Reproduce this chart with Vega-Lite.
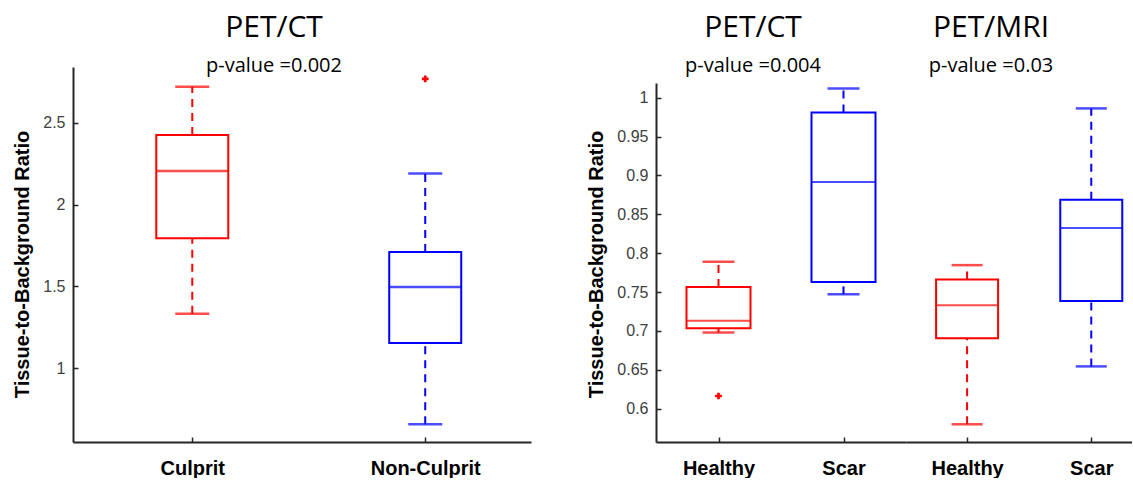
{
  "$schema": "https://vega.github.io/schema/vega-lite/v6.json",
  "padding": {"left": 12, "top": 13, "right": 0, "bottom": 0},
  "background": "white",
  "config": {
    "view": {"stroke": null},
    "axis": {
      "domainColor": "#262626", "domainWidth": 2,
      "tickColor": "#262626", "tickWidth": 1.5, "tickSize": -5,
      "labelFont": "Liberation Sans", "labelColor": "#404040", "labelFontSize": 16,
      "grid": false,
      "titleFont": "Liberation Sans", "titleFontWeight": "bold", "titleFontSize": 20, "titleColor": "#000000"
    },
    "axisX": {"labelFontWeight": "bold", "labelFontSize": 20, "labelColor": "#000000", "labelPadding": 21, "labelAngle": 0, "title": null},
    "axisY": {"labelPadding": 13, "format": "~g", "titlePadding": 10, "titleY": 197},
    "title": {
      "font": "Open Sans", "fontSize": 30, "fontWeight": "normal", "color": "#000000",
      "subtitleFont": "Open Sans", "subtitleFontSize": 20, "subtitleColor": "#000000", "subtitlePadding": 13,
      "frame": "group", "anchor": "middle", "dx": -28, "offset": -9
    }
  },
  "datasets": {
    "left": [
      {"cat": "Culprit", "lo": 1.333, "q1": 1.794, "med": 2.205, "q3": 2.425, "hi": 2.72},
      {"cat": "Non-Culprit", "lo": 0.658, "q1": 1.154, "med": 1.496, "q3": 1.71, "hi": 2.19}
    ],
    "leftOut": [{"cat": "Non-Culprit", "v": 2.767}],
    "petct": [
      {"cat": "Healthy", "lo": 0.698, "q1": 0.7035, "med": 0.713, "q3": 0.7564, "hi": 0.789},
      {"cat": "Scar", "lo": 0.747, "q1": 0.763, "med": 0.8915, "q3": 0.981, "hi": 1.012}
    ],
    "petctOut": [{"cat": "Healthy", "v": 0.6162}],
    "petmri": [
      {"cat": "Healthy", "lo": 0.5798, "q1": 0.6906, "med": 0.733, "q3": 0.766, "hi": 0.7846},
      {"cat": "Scar", "lo": 0.6543, "q1": 0.7384, "med": 0.8324, "q3": 0.8687, "hi": 0.9863}
    ]
  },
  "resolve": {"scale": {"x": "independent", "y": "independent"}},
  "spacing": 55,
  "hconcat": [
    {
      "width": 458, "height": 375,
      "title": {"text": "PET/CT", "subtitle": "p-value =0.002"},
      "data": {"name": "left"},
      "encoding": {
        "x": {"field": "cat", "type": "nominal",
              "scale": {"type": "point", "domain": ["Culprit", "Non-Culprit"], "padding": 0.483, "align": 0.53},
              "axis": {"title": null}}
      },
      "layer": [
        {"mark": {"type": "rule", "strokeWidth": 2, "strokeDash": [8, 6]},
         "encoding": {"y": {"field": "q3", "type": "quantitative", "scale": {"domain": [0.55, 2.84], "nice": false, "zero": false},
                            "axis": {"title": "Tissue-to-Background Ratio", "values": [1, 1.5, 2, 2.5]}},
                      "y2": {"field": "hi"},
                      "color": {"field": "cat", "type": "nominal", "legend": null,
                                "scale": {"domain": ["Culprit", "Non-Culprit", "Healthy", "Scar"], "range": ["#ff0000", "#0000ff", "#ff0000", "#0000ff"]}}}},
        {"mark": {"type": "rule", "strokeWidth": 2, "strokeDash": [8, 6]},
         "encoding": {"y": {"field": "lo", "type": "quantitative"}, "y2": {"field": "q1"},
                      "color": {"field": "cat", "type": "nominal", "legend": null}}},
        {"mark": {"type": "bar", "size": 72, "fill": "white", "fillOpacity": 0, "strokeWidth": 2},
         "encoding": {"y": {"field": "q1", "type": "quantitative"}, "y2": {"field": "q3"},
                      "stroke": {"field": "cat", "type": "nominal", "legend": null,
                                 "scale": {"domain": ["Culprit", "Non-Culprit", "Healthy", "Scar"], "range": ["#ff0000", "#0000ff", "#ff0000", "#0000ff"]}}}},
        {"mark": {"type": "tick", "size": 72, "thickness": 2.5},
         "encoding": {"y": {"field": "med", "type": "quantitative"}, "color": {"field": "cat", "type": "nominal", "legend": null}}},
        {"mark": {"type": "tick", "size": 34, "thickness": 2.5},
         "encoding": {"y": {"field": "hi", "type": "quantitative"}, "color": {"field": "cat", "type": "nominal", "legend": null}}},
        {"mark": {"type": "tick", "size": 34, "thickness": 2.5},
         "encoding": {"y": {"field": "lo", "type": "quantitative"}, "color": {"field": "cat", "type": "nominal", "legend": null}}},
        {"data": {"name": "leftOut"},
         "mark": {"type": "point", "shape": "cross", "filled": true, "color": "#ff0000", "size": 45, "opacity": 1},
         "encoding": {"y": {"field": "v", "type": "quantitative"}}}
      ]
    },
    {
      "spacing": 0,
      "resolve": {"scale": {"x": "independent", "y": "independent"}},
      "hconcat": [
        {
          "width": 250, "height": 375,
          "title": {"text": "PET/CT", "subtitle": "p-value =0.004"},
          "data": {"name": "petct"},
          "encoding": {
            "x": {"field": "cat", "type": "nominal",
                  "scale": {"type": "point", "domain": ["Healthy", "Scar"], "padding": 0.5, "align": 0.5},
                  "axis": {"title": null}}
          },
          "layer": [
            {"mark": {"type": "rule", "strokeWidth": 2, "strokeDash": [8, 6]},
             "encoding": {"y": {"field": "q3", "type": "quantitative", "scale": {"domain": [0.557, 1.019], "range": [375, 16], "nice": false, "zero": false},
                                "axis": {"title": "Tissue-to-Background Ratio", "titlePadding": 10, "values": [0.6, 0.65, 0.7, 0.75, 0.8, 0.85, 0.9, 0.95, 1]}},
                          "y2": {"field": "hi"},
                          "color": {"field": "cat", "type": "nominal", "legend": null,
                                    "scale": {"domain": ["Culprit", "Non-Culprit", "Healthy", "Scar"], "range": ["#ff0000", "#0000ff", "#ff0000", "#0000ff"]}}}},
            {"mark": {"type": "rule", "strokeWidth": 2, "strokeDash": [8, 6]},
             "encoding": {"y": {"field": "lo", "type": "quantitative"}, "y2": {"field": "q1"},
                          "color": {"field": "cat", "type": "nominal", "legend": null}}},
            {"mark": {"type": "bar", "size": 64, "fill": "white", "fillOpacity": 0, "strokeWidth": 2},
             "encoding": {"y": {"field": "q1", "type": "quantitative"}, "y2": {"field": "q3"},
                          "stroke": {"field": "cat", "type": "nominal", "legend": null,
                                     "scale": {"domain": ["Culprit", "Non-Culprit", "Healthy", "Scar"], "range": ["#ff0000", "#0000ff", "#ff0000", "#0000ff"]}}}},
            {"mark": {"type": "tick", "size": 64, "thickness": 2},
             "encoding": {"y": {"field": "med", "type": "quantitative"}, "color": {"field": "cat", "type": "nominal", "legend": null}}},
            {"mark": {"type": "tick", "size": 32, "thickness": 2.5},
             "encoding": {"y": {"field": "hi", "type": "quantitative"}, "color": {"field": "cat", "type": "nominal", "legend": null}}},
            {"mark": {"type": "tick", "size": 32, "thickness": 2.5},
             "encoding": {"y": {"field": "lo", "type": "quantitative"}, "color": {"field": "cat", "type": "nominal", "legend": null}}},
            {"data": {"name": "petctOut"},
             "mark": {"type": "point", "shape": "cross", "filled": true, "color": "#ff0000", "size": 45, "opacity": 1},
             "encoding": {"y": {"field": "v", "type": "quantitative"}}}
          ]
        },
        {
          "width": 226, "height": 375,
          "title": {"text": "PET/MRI", "subtitle": "p-value =0.03"},
          "data": {"name": "petmri"},
          "encoding": {
            "x": {"field": "cat", "type": "nominal",
                  "scale": {"type": "point", "domain": ["Healthy", "Scar"], "padding": 0.41, "align": 0.6},
                  "axis": {"title": null}}
          },
          "layer": [
            {"mark": {"type": "rule", "strokeWidth": 2, "strokeDash": [8, 6]},
             "encoding": {"y": {"field": "q3", "type": "quantitative", "scale": {"domain": [0.557, 1.019], "range": [375, 16], "nice": false, "zero": false}, "axis": null},
                          "y2": {"field": "hi"},
                          "color": {"field": "cat", "type": "nominal", "legend": null,
                                    "scale": {"domain": ["Culprit", "Non-Culprit", "Healthy", "Scar"], "range": ["#ff0000", "#0000ff", "#ff0000", "#0000ff"]}}}},
            {"mark": {"type": "rule", "strokeWidth": 2, "strokeDash": [8, 6]},
             "encoding": {"y": {"field": "lo", "type": "quantitative"}, "y2": {"field": "q1"},
                          "color": {"field": "cat", "type": "nominal", "legend": null}}},
            {"mark": {"type": "bar", "size": 62, "fill": "white", "fillOpacity": 0, "strokeWidth": 2},
             "encoding": {"y": {"field": "q1", "type": "quantitative"}, "y2": {"field": "q3"},
                          "stroke": {"field": "cat", "type": "nominal", "legend": null,
                                     "scale": {"domain": ["Culprit", "Non-Culprit", "Healthy", "Scar"], "range": ["#ff0000", "#0000ff", "#ff0000", "#0000ff"]}}}},
            {"mark": {"type": "tick", "size": 62, "thickness": 2},
             "encoding": {"y": {"field": "med", "type": "quantitative"}, "color": {"field": "cat", "type": "nominal", "legend": null}}},
            {"mark": {"type": "tick", "size": 31, "thickness": 2.5},
             "encoding": {"y": {"field": "hi", "type": "quantitative"}, "color": {"field": "cat", "type": "nominal", "legend": null}}},
            {"mark": {"type": "tick", "size": 31, "thickness": 2.5},
             "encoding": {"y": {"field": "lo", "type": "quantitative"}, "color": {"field": "cat", "type": "nominal", "legend": null}}}
          ]
        }
      ]
    }
  ]
}
